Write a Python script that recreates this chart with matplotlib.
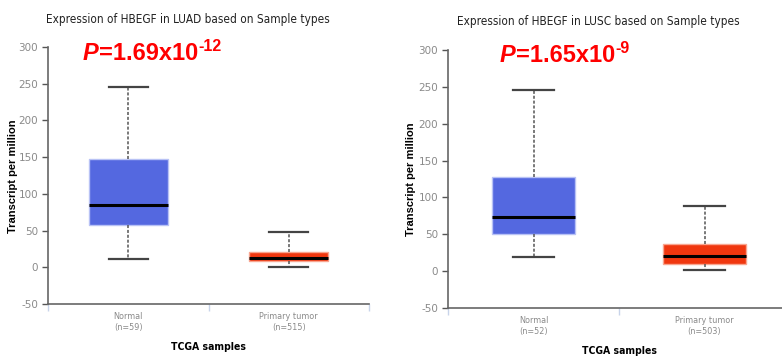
import matplotlib
matplotlib.use("Agg")
import matplotlib.pyplot as plt

plt.rcParams["axes.unicode_minus"] = False

# values (TPM)
groups = ["Normal", "Primary tumor"]
luad_n = [59, 515]
luad_whislo = [11, 1]
luad_q1 = [58, 8]
luad_med = [85, 13]
luad_q3 = [147, 21]
luad_whishi = [246, 48]
luad_p = ("1.69", "-12")

lusc_n = [52, 503]
lusc_whislo = [19, 1]
lusc_q1 = [50, 10]
lusc_med = [73, 21]
lusc_q3 = [128, 37]
lusc_whishi = [246, 88]
lusc_p = ("1.65", "-9")

box_colors = ["#5468e0", "#f0370f"]
edge_colors = ["#b8c2f5", "#f9a58f"]


def make_stats(lo, q1, med, q3, hi):
    return [dict(whislo=lo[i], q1=q1[i], med=med[i], q3=q3[i], whishi=hi[i], fliers=[])
            for i in range(len(groups))]


def draw_panel(ax, stats, counts, width):
    bp = ax.bxp(stats, positions=[0.5, 1.5], widths=width, capwidths=0.24,
                patch_artist=True, showfliers=False,
                whiskerprops=dict(color="#555555", linestyle=(0, (2, 1.2)), linewidth=1.1),
                capprops=dict(color="#444444", linewidth=1.6),
                medianprops=dict(color="black", linewidth=2.2))
    for patch, fc, ec in zip(bp["boxes"], box_colors, edge_colors):
        patch.set_facecolor(fc)
        patch.set_edgecolor(ec)
        patch.set_linewidth(1.0)
    ax.set_xlim(0, 2)
    ax.set_ylim(-50, 300)
    ax.set_yticks(range(-50, 301, 50))
    ax.tick_params(axis="y", labelcolor="#8a8a8a", labelsize=7.5, length=4, width=1,
                   color="#555555", pad=3)
    ax.set_xticks([0, 1, 2])
    ax.set_xticklabels([])
    ax.tick_params(axis="x", color="#c8d4ea", length=5, width=1)
    ax.set_xticks([0.5, 1.5], minor=True)
    ax.set_xticklabels([f"{g}\n(n={n})" for g, n in zip(groups, counts)], minor=True,
                       fontsize=6.5, color="#8a8a8a", fontstretch="condensed")
    ax.tick_params(axis="x", which="minor", length=0, pad=6)
    for s in ["top", "right"]:
        ax.spines[s].set_visible(False)
    for s in ["left", "bottom"]:
        ax.spines[s].set_color("#666666")
        ax.spines[s].set_linewidth(1.2)


def p_value(ax, x, y, mant, expo):
    # italic bold P, then "=mantissa x10" and a raised exponent, chained together
    red = dict(color="#ff0000", fontweight="bold", family="Liberation Sans",
               annotation_clip=False)
    t1 = ax.annotate("P", xy=(x, y), xycoords="figure pixels", fontsize=17,
                     fontstyle="italic", ha="left", va="center", **red)
    t2 = ax.annotate(f"={mant}x10", xy=(1, 0), xycoords=t1, fontsize=17,
                     ha="left", va="bottom", **red)
    ax.annotate(expo, xy=(1, 0.5), xycoords=t2, fontsize=11.5,
                ha="left", va="bottom", **red)


fig = plt.figure(figsize=(7.82, 3.56), dpi=100)

ax1 = fig.add_axes([48 / 782, 1 - 304 / 356, 321 / 782, 257 / 356])
draw_panel(ax1, make_stats(luad_whislo, luad_q1, luad_med, luad_q3, luad_whishi), luad_n, 0.49)

ax2 = fig.add_axes([448 / 782, 1 - 308 / 356, 342 / 782, 258 / 356])
draw_panel(ax2, make_stats(lusc_whislo, lusc_q1, lusc_med, lusc_q3, lusc_whishi), lusc_n, 0.485)

title_font = dict(fontsize=8.5, color="#222222", fontstretch="condensed",
                  ha="center", va="center")
fig.text(188 / 782, 1 - 19 / 356, "Expression of HBEGF in LUAD based on Sample types", **title_font)
fig.text(598 / 782, 1 - 21 / 356, "Expression of HBEGF in LUSC based on Sample types", **title_font)

p_value(ax1, 83, 356 - 54, *luad_p)
p_value(ax2, 500, 356 - 56, *lusc_p)

ylab = dict(fontsize=8, fontweight="bold", rotation=90, ha="center", va="center",
            family="Liberation Sans")
fig.text(13 / 782, 1 - 176 / 356, "Transcript per million", **ylab)
fig.text(411 / 782, 1 - 179 / 356, "Transcript per million", **ylab)

xlab = dict(fontsize=7.5, fontweight="bold", ha="center", va="center",
            family="DejaVu Sans", fontstretch="condensed")
fig.text(208 / 782, 1 - 347 / 356, "TCGA samples", **xlab)
fig.text(620 / 782, 1 - 351 / 356, "TCGA samples", **xlab)

fig.savefig("out.png", dpi=100)
